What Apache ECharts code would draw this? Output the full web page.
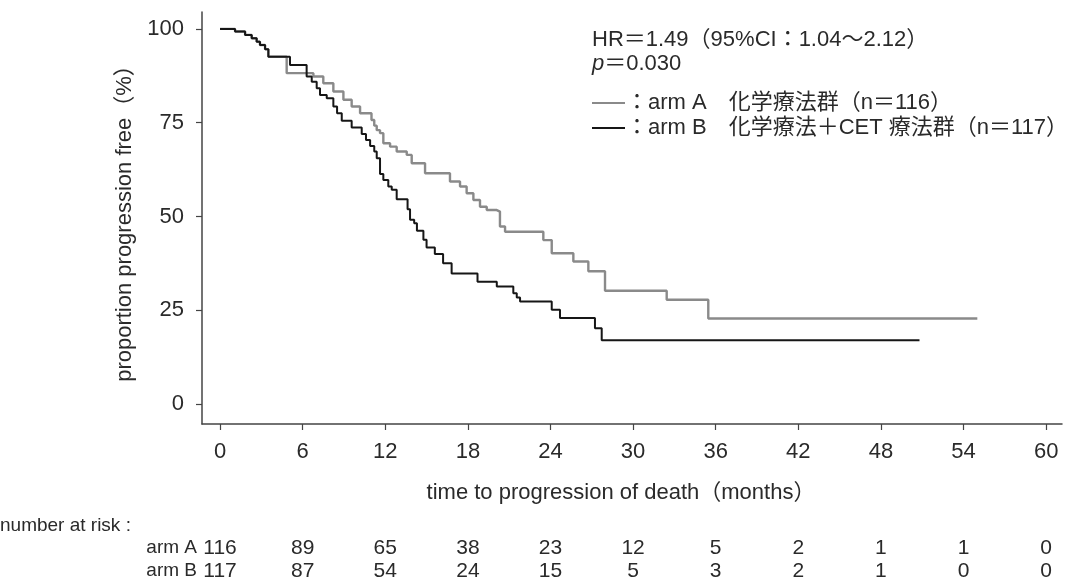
<!DOCTYPE html>
<html><head><meta charset="utf-8">
<script src="https://cdn.jsdelivr.net/npm/echarts@6/dist/echarts.min.js"></script>
<style>html,body{margin:0;padding:0;background:#fff}#c{width:1071px;height:588px}</style>
</head><body><div id="c"></div>
<script>
const xTicks = [0, 6, 12, 18, 24, 30, 36, 42, 48, 54, 60];
const yTicks = [0, 25, 50, 75, 100];

const armATime = [0,1.09,1.82,2.3,2.66,2.9,3.27,3.51,4.84,6.78,7.5,8.23,8.96,9.56,10.17,11.0,11.2,11.38,11.62,11.86,12.35,12.83,13.56,13.92,14.89,16.7,17.43,17.91,18.4,18.88,19.37,20.1,20.33,20.7,23.48,24.09,25.66,26.75,27.96,32.44,35.46,55.0];
const armASurv = [100,99.3,98.4,97.5,96.6,95.7,94.6,92.6,88.2,87.3,85.5,83.3,81.1,79.3,77.5,75.7,74.2,73.0,72.2,69.5,68.6,67.3,66.4,64.2,61.5,59.3,58.0,56.2,54.4,52.6,51.7,51.3,47.3,45.9,43.7,40.2,38.0,35.4,30.2,27.8,22.8,22.8];

const armBTime = [0,1.09,1.82,2.3,2.66,2.9,3.27,3.51,5.08,6.29,6.66,7.02,7.26,7.75,8.23,8.5,8.84,9.56,10.29,10.6,10.9,11.2,11.38,11.62,11.86,12.22,12.47,12.83,13.62,13.8,14.1,14.3,14.77,15.0,15.6,16.2,16.82,18.7,20.1,21.3,21.55,21.79,24.09,24.69,27.23,27.72,50.8];
const armBSurv = [100,99.3,98.4,97.5,96.6,95.7,94.6,92.6,90.4,87.3,85.9,84.2,82.4,81.5,79.3,77.5,75.5,73.7,72.0,70.4,68.8,67.3,65.5,61.3,59.7,58.0,57.1,54.6,51.9,49.1,48.2,46.2,43.8,41.7,40.0,37.5,34.8,32.6,31.3,29.5,28.4,27.3,25.1,22.9,20.2,17.0,17.0];

const riskTimes = [0, 6, 12, 18, 24, 30, 36, 42, 48, 54, 60];
const riskA = [116, 89, 65, 38, 23, 12, 5, 2, 1, 1, 0];
const riskB = [117, 87, 54, 24, 15, 5, 3, 2, 1, 0, 0];

const grayCol = '#8a8a8a';
const blackCol = '#161616';
const txtCol = '#2a2a2a';
const FONT = '"Liberation Sans", "Noto Sans CJK JP", sans-serif';

const chart = echarts.init(document.getElementById('c'), null, {renderer: 'canvas'});

chart.setOption({
  animation: false,
  backgroundColor: '#fff',
  grid: {left: 202, right: 9, top: 12, bottom: 164, containLabel: false},
  xAxis: {
    type: 'value', min: -1.31, max: 61.15,
    axisLine: {show: true, onZero: false, lineStyle: {color: '#444', width: 1.5}},
    splitLine: {show: false},
    axisTick: {show: true, inside: false, length: 6, customValues: xTicks, lineStyle: {color: '#444', width: 1.2}},
    axisLabel: {show: true, customValues: xTicks, margin: 17, fontSize: 22, color: txtCol, fontFamily: FONT},
  },
  yAxis: {
    type: 'value', min: -5.33, max: 104.5,
    axisLine: {show: true, onZero: false, lineStyle: {color: '#444', width: 1.5}},
    splitLine: {show: false},
    axisTick: {show: true, inside: false, length: 6, customValues: yTicks, lineStyle: {color: '#444', width: 1.2}},
    axisLabel: {show: true, customValues: yTicks, margin: 18, fontSize: 22, color: txtCol, fontFamily: FONT},
  },
  series: [
    {
      name: 'arm A', type: 'line', step: 'end', symbol: 'none',
      data: armATime.map((t, i) => [t, armASurv[i]]),
      lineStyle: {color: grayCol, width: 2.4}, z: 2
    },
    {
      name: 'arm B', type: 'line', step: 'end', symbol: 'none',
      data: armBTime.map((t, i) => [t, armBSurv[i]]),
      lineStyle: {color: blackCol, width: 2}, z: 3
    }
  ]
});

const txt = (x, y, text, extra) => ({
  type: 'text', x: x, y: y,
  style: Object.assign({text: text, fill: txtCol, font: '22px ' + FONT, textVerticalAlign: 'middle'}, extra || {})
});

const graphics = [];
graphics.push(txt(592, 40, 'HR＝1.49（95%CI：1.04～2.12）'));
graphics.push({
  type: 'text', x: 592, y: 64,
  style: {
    text: '{i|p}＝0.030', fill: txtCol, font: '22px ' + FONT, textVerticalAlign: 'middle',
    rich: {i: {fontStyle: 'italic', fontSize: 22, fontFamily: FONT, fill: txtCol}}
  }
});
graphics.push({type: 'line', shape: {x1: 592, y1: 103, x2: 625, y2: 103}, style: {stroke: grayCol, lineWidth: 2}});
graphics.push(txt(626, 103, '：arm A　化学療法群（n＝116）'));
graphics.push({type: 'line', shape: {x1: 592, y1: 128, x2: 625, y2: 128}, style: {stroke: blackCol, lineWidth: 2}});
graphics.push(txt(626, 128, '：arm B　化学療法＋CET 療法群（n＝117）'));

graphics.push(txt(621, 493, 'time to progression of death（months）', {textAlign: 'center'}));
graphics.push({
  type: 'text', x: 125, y: 218, rotation: Math.PI / 2,
  style: {text: 'proportion progression free（%）', fill: txtCol, font: '22px ' + FONT, textAlign: 'center', textVerticalAlign: 'middle'}
});

graphics.push(txt(0, 526, 'number at risk :', {font: '19px ' + FONT}));
graphics.push(txt(197, 548, 'arm A', {textAlign: 'right', font: '19px ' + FONT}));
graphics.push(txt(197, 571, 'arm B', {textAlign: 'right', font: '19px ' + FONT}));

riskTimes.forEach((t, i) => {
  const px = chart.convertToPixel({xAxisIndex: 0}, t);
  graphics.push(txt(px, 548, String(riskA[i]), {textAlign: 'center', font: '21px ' + FONT}));
  graphics.push(txt(px, 571, String(riskB[i]), {textAlign: 'center', font: '21px ' + FONT}));
});

chart.setOption({graphic: graphics});
</script>
</body></html>
